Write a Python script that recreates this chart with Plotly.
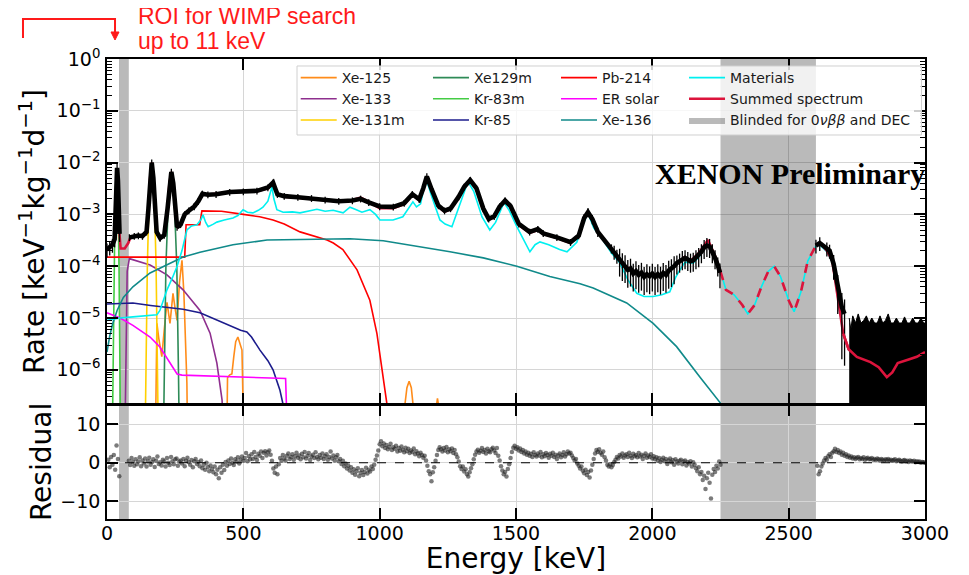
import numpy as np
import plotly.graph_objects as go

FONT = "DejaVu Sans"

# ---------------- values (E in keV, rate in keV^-1 kg^-1 d^-1) ----------------
summed_E = [0, 10, 20, 28, 31, 34, 37, 40, 43, 46, 50, 65, 78, 85, 100, 130, 145, 152, 158, 164,
            170, 176, 182, 195, 210, 222, 229, 236, 243, 250, 257, 270, 285, 300, 320, 335, 350, 370, 400, 450,
            500, 550, 590, 609, 625, 650, 700, 750, 800, 850, 900, 930, 960, 1000, 1050, 1090, 1120, 1145, 1160, 1173,
            1190, 1215, 1238, 1260, 1290, 1310, 1332, 1355, 1380, 1400, 1420, 1440, 1460, 1480, 1510, 1550, 1580, 1600, 1650, 1700,
            1730, 1750, 1764, 1780, 1800, 1850, 1900, 1950, 2000, 2050, 2080, 2100, 2118, 2140, 2170, 2204, 2230, 2250, 2270, 2300,
            2330, 2350, 2375, 2400, 2425, 2447, 2470, 2500, 2520, 2545, 2570, 2600, 2614, 2640, 2660, 2680, 2700, 2720, 2750, 2800,
            2830, 2860, 2880, 2900, 2940, 2970, 3000]
summed_rate = [2.0e-4, 2.2e-4, 2.5e-4, 3.2e-4, 1.3e-3, 4.5e-3, 7.8e-3, 4.5e-3, 1.3e-3, 4.0e-4, 2.2e-4, 2.2e-4, 2.8e-4, 3.5e-4, 3.8e-4, 3.8e-4, 4.5e-4, 1.26e-3, 5.0e-3, 1.0e-2,
               5.0e-3, 1.26e-3, 4.5e-4, 3.5e-4, 4.0e-4, 1.26e-3, 4.0e-3, 6.6e-3, 4.0e-3, 1.26e-3, 5.6e-4, 6.3e-4, 1.0e-3, 1.17e-3, 1.41e-3, 1.78e-3, 2.5e-3, 2.4e-3, 2.5e-3, 2.7e-3,
               2.75e-3, 2.8e-3, 3.2e-3, 4.2e-3, 2.5e-3, 2.2e-3, 2.1e-3, 2.0e-3, 1.86e-3, 1.78e-3, 1.9e-3, 2.1e-3, 1.74e-3, 1.32e-3, 1.32e-3, 1.58e-3, 2.4e-3, 1.9e-3, 3.2e-3, 5.4e-3,
               3.2e-3, 1.41e-3, 1.12e-3, 1.26e-3, 2.2e-3, 3.5e-3, 4.6e-3, 3.2e-3, 1.26e-3, 7.9e-4, 8.9e-4, 1.41e-3, 1.9e-3, 1.41e-3, 6.3e-4, 4.4e-4, 5.0e-4, 4.2e-4, 3.5e-4, 2.8e-4,
               4.0e-4, 8.9e-4, 1.12e-3, 7.9e-4, 4.5e-4, 2.2e-4, 1.0e-4, 7.1e-5, 6.6e-5, 7.1e-5, 1.0e-4, 1.26e-4, 1.5e-4, 1.26e-4, 1.78e-4, 3.2e-4, 1.58e-4, 7.9e-5, 3.5e-5, 2.8e-5,
               1.78e-5, 1.2e-5, 1.78e-5, 4.0e-5, 7.9e-5, 1.0e-4, 6.3e-5, 2.2e-5, 1.32e-5, 3.2e-5, 1.26e-4, 2.5e-4, 2.8e-4, 2.0e-4, 1.26e-4, 2.5e-5, 5.0e-6, 2.5e-6, 1.78e-6, 1.41e-6,
               1.12e-6, 7.2e-7, 8.9e-7, 1.35e-6, 1.58e-6, 1.78e-6, 2.2e-6]

data_E = [0, 10, 20, 28, 31, 34, 37, 40, 43, 46, 60, 82, 100, 115, 130, 145, 152, 158, 164, 170,
          176, 182, 195, 210, 222, 229, 236, 243, 250, 257, 270, 285, 300, 320, 335, 350, 370, 400, 450, 500,
          550, 590, 609, 625, 650, 700, 750, 800, 850, 900, 930, 960, 1000, 1050, 1090, 1120, 1145, 1160, 1173, 1190,
          1215, 1238, 1260, 1290, 1310, 1332, 1355, 1380, 1400, 1420, 1440, 1460, 1480, 1510, 1550, 1580, 1600, 1650, 1700, 1730,
          1750, 1764, 1780, 1800, 1850,
          1860, 1870, 1880, 1890, 1900, 1910, 1920, 1930, 1940, 1950, 1960, 1970, 1980, 1990, 2000, 2010, 2020, 2030, 2040, 2050,
          2060, 2070, 2080, 2090, 2100, 2110, 2120, 2130, 2140, 2150, 2160, 2170, 2180, 2190, 2200, 2210, 2220, 2230, 2240, 2248,
          2400, 2600, 2614, 2640, 2650, 2665, 2680, 2695, 2705]
data_rate = [2.1e-4, 2.3e-4, 2.6e-4, 3.3e-4, 1.35e-3, 4.6e-3, 7.9e-3, 4.6e-3, 1.35e-3, 4.2e-4, None, 3.6e-4, 3.8e-4, 3.9e-4, 3.8e-4, 4.6e-4, 1.3e-3, 5.1e-3, 1.0e-2, 5.1e-3,
             1.3e-3, 4.6e-4, 3.5e-4, 4.0e-4, 1.28e-3, 4.0e-3, 6.6e-3, 4.0e-3, 1.28e-3, 5.7e-4, 6.4e-4, 1.0e-3, 1.18e-3, 1.42e-3, 1.8e-3, 2.5e-3, 2.4e-3, 2.45e-3, 2.7e-3, 2.75e-3,
             2.85e-3, 3.3e-3, 4.1e-3, 2.45e-3, 2.25e-3, 2.15e-3, 2.05e-3, 1.9e-3, 1.8e-3, 1.85e-3, 2.0e-3, 1.7e-3, 1.42e-3, 1.4e-3, 1.65e-3, 2.45e-3, 1.95e-3, 3.2e-3, 5.4e-3, 3.1e-3,
             1.48e-3, 1.18e-3, 1.3e-3, 2.2e-3, 3.4e-3, 4.6e-3, 3.2e-3, 1.3e-3, 8.2e-4, 9.2e-4, 1.42e-3, 1.85e-3, 1.45e-3, 6.6e-4, 4.6e-4, 5.2e-4, 4.3e-4, 3.6e-4, 2.9e-4, 3.9e-4,
             8.5e-4, 1.1e-3, 8.1e-4, 4.6e-4, 2.2e-4,
             1.9e-4, 1.6e-4, 1.4e-4, 1.15e-4, 1.05e-4, 8.5e-5, 9e-5, 7.2e-5, 8e-5, 6.8e-5, 7.5e-5, 6.2e-5, 7e-5, 6.4e-5, 7.2e-5, 6.2e-5, 7e-5, 6.3e-5, 7.4e-5, 6.8e-5,
             8.2e-5, 8.8e-5, 1.0e-4, 1.15e-4, 1.25e-4, 1.4e-4, 1.45e-4, 1.35e-4, 1.25e-4, 1.3e-4, 1.45e-4, 1.6e-4, 1.9e-4, 2.3e-4, 2.5e-4, 2.4e-4, 1.9e-4, 1.45e-4, 1.05e-4, 7.5e-5,
             None, 2.5e-4, 2.8e-4, 2.2e-4, 2.0e-4, 1.1e-4, 4.0e-5, 1.6e-5, 1.2e-5]
data_rel_err = ([0.3] * 10 + [0.0] + [0.15] * 69 + [0.2] * 5 + [0.3] * 2 + [0.55] * 21 + [0.4] * 16 + [0.5]
                + [0.0] + [0.3] * 4 + [0.5, 0.7, 0.9, 0.9])

tail_E = [2722, 2728, 2735, 2745, 2755, 2765, 2775, 2785, 2795, 2805, 2815, 2825, 2835, 2845, 2855,
          2865, 2875, 2885, 2895, 2905, 2915, 2925, 2935, 2945, 2955, 2965, 2975, 2985, 2995, 3000]
tail_rate = [1.0e-5, 6e-6, 1.1e-5, 8e-6, 1.2e-5, 8e-6, 9e-6, 1.1e-5, 8e-6, 1.0e-5, 8e-6, 8e-6, 1.1e-5, 8e-6, 9e-6,
             1.2e-5, 8e-6, 8e-6, 1.0e-5, 8e-6, 8e-6, 1.05e-5, 8e-6, 8e-6, 1.0e-5, 8e-6, 8e-6, 1.0e-5, 8e-6, 8e-6]

materials_E = [0, 48, 95, 150, 183, 194, 210, 220, 240, 257, 275, 293, 310, 330, 345, 352, 362, 371, 390, 403,
               430, 462, 480, 499, 515, 535, 555, 572, 590, 605, 612, 623, 646, 680, 708, 740, 770, 800, 829, 866,
               891, 910, 935, 964, 985, 1001, 1049, 1085, 1110, 1122, 1135, 1150, 1170, 1190, 1221, 1240, 1265, 1290, 1310, 1324,
               1345, 1375, 1404, 1425, 1456, 1475, 1503, 1530, 1551, 1570, 1588, 1620, 1660, 1687, 1710, 1723, 1740, 1764, 1785, 1819,
               1850, 1881, 1910, 1943, 1970, 2003, 2035, 2064, 2085, 2101, 2120, 2150, 2175, 2204, 2230, 2250, 2270, 2300, 2330, 2350,
               2375, 2400, 2425, 2447, 2470, 2500, 2520, 2545, 2570, 2600, 2614, 2640, 2660, 2680, 2700, 2720, 2750, 2800, 2830, 2860,
               2880, 2900, 2940, 2970, 3000]
materials_rate = [9e-6, 1.0e-5, 1.05e-5, 1.1e-5, 1.15e-5, 1.4e-5, 2.5e-5, 3.5e-5, 6e-5, 1.0e-4, 2.0e-4, 5.0e-4, 6e-4, 6.3e-4, 8e-4, 9.8e-4, 7e-4, 5.8e-4, 6.5e-4, 7.1e-4,
                  7.8e-4, 8.5e-4, 9.5e-4, 1.23e-3, 1.1e-3, 1.07e-3, 1.2e-3, 1.38e-3, 1.8e-3, 3.4e-3, 2.0e-3, 1.23e-3, 1.1e-3, 1.12e-3, 1.07e-3, 1.15e-3, 1.26e-3, 1.15e-3, 1.2e-3, 1.07e-3,
                  1.38e-3, 1.26e-3, 1.1e-3, 1.23e-3, 1.0e-3, 7.8e-4, 7.8e-4, 9e-4, 1.4e-3, 1.75e-3, 1.4e-3, 1.6e-3, 5.0e-3, 2.3e-3, 7.8e-4, 6.5e-4, 5.8e-4, 1.4e-3, 2.8e-3, 4.3e-3,
                  2.8e-3, 9e-4, 5e-4, 7e-4, 1.7e-3, 1.2e-3, 5.8e-4, 3.2e-4, 1.9e-4, 2.6e-4, 2.95e-4, 2.6e-4, 2.1e-4, 1.9e-4, 2.5e-4, 2.9e-4, 5.5e-4, 1.07e-3, 5.5e-4, 3.2e-4,
                  1.8e-4, 1.15e-4, 5.5e-5, 3.0e-5, 2.6e-5, 2.6e-5, 2.8e-5, 3.2e-5, 6e-5, 8.5e-5, 1.2e-4, 1.15e-4, 1.6e-4, 3.0e-4, 1.6e-4, 7.9e-5, 3.5e-5, 2.8e-5, 1.78e-5, 1.2e-5,
                  1.78e-5, 4.0e-5, 7.9e-5, 1.0e-4, 6.3e-5, 2.2e-5, 1.32e-5, 3.2e-5, 1.26e-4, 2.45e-4, 2.57e-4, 1.9e-4, 1.2e-4, 2.4e-5, 4.8e-6, 2.4e-6, 1.7e-6, 1.35e-6, 1.07e-6, 6.9e-7,
                  8.5e-7, 1.3e-6, 1.5e-6, 1.7e-6, 2.1e-6]

xe125_E = [176, 180, 183, 190, 201, 210, 220, 231, 242, 250, 257, 266, 275, 282, 286, 293, 297, None,
           438, 442, 450, 458, 465, 472, 480, 488, 495, 498, 501, None,
           1085, 1092, 1100, 1108, 1116, 1123, 1130, None, 1200, 1205, 1212, 1220, 1226]
xe125_rate = [1e-8, 1e-6, 7.9e-6, 4e-6, 1.8e-6, 6e-6, 2e-5, 7.9e-6, 3e-5, 1.5e-5, 9e-6, 5e-5, 1.3e-4, 3e-5, 7.9e-6, 5.5e-7, 1e-8, None,
              1e-8, 7e-7, 8e-7, 8.3e-7, 1.8e-6, 3.5e-6, 4.3e-6, 3.3e-6, 2.4e-6, 4e-7, 1e-8, None,
              1e-8, 2e-7, 4.5e-7, 6e-7, 4.5e-7, 2e-7, 1e-8, None, 1e-8, 1.5e-7, 2.8e-7, 1.5e-7, 1e-8]
xe133_E = [64, 68, 74, 82, 120, 158, 220, 279, 341, 378, 403, 415, 422, 428]
xe133_rate = [1e-8, 1e-6, 8e-5, 1.4e-4, 1.2e-4, 1.05e-4, 6.8e-5, 3.5e-5, 1.4e-5, 5.1e-6, 1.35e-6, 5e-7, 2.6e-7, 5e-8]
xe131m_E = [138, 143, 148, 155, 164, 173, 180, 185, 190]
xe131m_rate = [1e-8, 1e-6, 1e-4, 3e-3, 9.5e-3, 3e-3, 1e-4, 1e-6, 1e-8]
xe129m_E = [205, 210, 216, 226, 236, 246, 256, 262, 267]
xe129m_rate = [1e-8, 1e-6, 1e-4, 2.5e-3, 6.3e-3, 2.5e-3, 1e-4, 1e-6, 1e-8]
kr83m_E = [18, 22, 25, 30, 35, 40, 44, 47, 51]
kr83m_rate = [1e-8, 1e-6, 1e-4, 2.5e-3, 7.5e-3, 2.5e-3, 1e-4, 1e-6, 1e-8]
kr85_E = [0, 95, 160, 220, 279, 341, 403, 462, 490, 513, 530, 561, 590, 609, 634, 650, 662]
kr85_rate = [1.86e-5, 1.95e-5, 1.75e-5, 1.62e-5, 1.48e-5, 1.26e-5, 9.1e-6, 6.8e-6, 5.8e-6, 5.4e-6, 4.3e-6, 2.4e-6, 1.5e-6, 1.0e-6, 4.1e-7, 1.7e-7, 5e-8]
pb214_E = [0, 285, 290, 340, 348, 360, 420, 500, 560, 609, 650, 708, 770, 807, 830, 865, 917, 964, 990, 1010, 1026, 1035]
pb214_rate = [1.5e-4, 1.5e-4, 6.3e-4, 6.3e-4, 1.17e-3, 1.17e-3, 1.15e-3, 1.0e-3, 9.0e-4, 7.8e-4, 6.5e-4, 4.6e-4, 3.7e-4, 3.2e-4, 2.8e-4, 2.1e-4, 8.5e-5, 2.2e-5, 5e-6, 1e-6, 2.3e-7, 5e-8]
er_E = [0, 48, 95, 158, 194, 231, 257, 275, 400, 634, 655, 660, 665]
er_rate = [1.26e-5, 1.0e-5, 7.2e-6, 4.3e-6, 2.75e-6, 1.35e-6, 8.3e-7, 7.9e-7, 7.6e-7, 6.9e-7, 6.8e-7, 1e-7, 5e-8]
xe136_E = [0, 10, 20, 37, 60, 95, 158, 220, 279, 341, 462, 587, 646, 891, 1013, 1136, 1258, 1380, 1503, 1624,
           1735, 1783, 1906, 2003, 2089, 2175, 2249, 2270]
xe136_rate = [2.2e-6, 4.5e-6, 7.5e-6, 1.4e-5, 2.5e-5, 4.0e-5, 7.4e-5, 1.05e-4, 1.5e-4, 1.86e-4, 2.6e-4, 3.2e-4, 3.25e-4, 3.4e-4, 3.1e-4, 2.45e-4, 1.9e-4, 1.45e-4, 1.0e-4, 6.3e-5,
              4.6e-5, 3.8e-5, 1.95e-5, 7.9e-6, 2.8e-6, 7.2e-7, 2.3e-7, 1e-7]

# residuals, 5 keV bins
res_low_E = list(range(5, 2251, 5))
res_low = [0.8, -1.2, 1.5, -0.5, 2.0, -1.8, 4.5, 1.0, -3.5, None, None, None, None, None, None, 0.5, -0.6, 1.2, 0.2, -0.8,
           0.9, -0.4, 0.3, 1.4, -0.9, 0.6, -0.2, 1.1, -1.0, 0.4, 1.3, -0.5, 0.2, 0.9, -1.1, 0.5, 1.6, -0.3, 0.1, -0.7,
           0.8, 0.3, -1.0, 1.2, 0.0, -0.6, 1.5, 0.4, -0.4, 0.9, 1.1, -0.8, 0.3, 0.6, -0.2, 1.0, -0.9, 0.5, 1.3, 0.2,
           -0.5, 0.7, -1.2, 0.4, 1.0, -0.3, 0.2, -0.9, 0.6, -1.4, -0.5, -1.8, 0.0, -1.1, -2.2, -0.7, -1.6, -2.5, -1.0, -3.0,
           -1.8, -4.0, -1.2, -2.6, -0.5, -1.9, 0.2, -0.8, 0.6, -0.3, 1.1, 0.0, -0.6, 0.9, 0.3, 1.4, -0.2, 0.8, 1.6, 0.5,
           1.2, 2.5, 0.4, 1.7, 0.9, 2.2, 1.0, 2.8, 1.5, 0.7, 2.3, 1.8, 2.9, 1.2, 2.6, 3.0, 1.9, 2.7, 3.2, 2.1,
           0.5, -1.5, -2.6, -1.0, -3.0, -0.4, 1.2, 0.5, 2.0, 1.1, 0.6, 1.8, 2.4, 1.0, 1.5, 2.2, 0.8, 1.7, 2.6, 1.3,
           1.9, 0.9, 2.3, 1.4, 2.8, 1.1, 1.8, 2.5, 0.7, 1.6, 2.1, 1.2, 2.7, 1.5, 0.9, 2.0, 1.3, 2.4, 1.0, 1.7,
           2.2, 0.8, 1.5, 2.9, 1.1, 1.9, 0.6, 1.4, 2.0, 0.4, 1.0, -0.3, 0.5, -0.9, -0.2, -1.5, -0.8, -2.0, -1.2, -2.6,
           -1.7, -3.1, -2.2, -1.4, -3.5, -2.6, -1.9, -3.2, -2.4, -1.3, -2.8, -1.8, -2.3, -1.0, -1.6, -0.5, 0.8, 1.9, 3.2, 4.8,
           5.6, 4.3, 5.0, 3.8, 4.6, 3.5, 4.1, 4.9, 3.3, 4.0, 3.6, 4.4, 2.9, 3.8, 3.1, 4.2, 3.4, 2.7, 3.9, 3.0,
           3.6, 2.5, 3.2, 2.8, 3.7, 2.2, 3.0, 2.4, 1.7, 2.6, 2.0, 1.3, 1.8, 0.6, -0.8, -2.2, -3.0, -4.8, -2.5, -1.2,
           0.5, 2.0, 3.3, 4.0, 3.5, 2.9, 3.8, 3.2, 4.1, 2.7, 3.5, 3.0, 3.7, 2.5, 3.3, 2.2, 1.4, 0.3, -0.9, -1.6,
           -1.0, -2.3, -1.7, -3.0, -3.6, -2.5, -1.4, -0.4, 0.9, 2.1, 2.9, 3.4, 2.6, 3.1, 3.8, 2.8, 3.3, 2.4, 3.6, 3.0,
           2.7, 3.5, 3.9, 3.2, 2.5, 3.8, 1.8, 0.6, -0.9, -2.0, -3.0, -2.4, -3.6, -1.6, -0.4, 1.2, 2.8, 3.9, 4.4, 3.6,
           4.0, 3.2, 3.7, 2.8, 3.3, 2.4, 2.9, 2.1, 2.6, 1.8, 2.3, 1.5, 2.7, 2.0, 1.6, 2.4, 1.9, 2.8, 1.4, 2.2,
           1.7, 2.5, 2.0, 1.3, 2.3, 1.8, 2.6, 1.5, 2.1, 1.0, 1.9, 2.4, 1.4, 2.0, 2.7, 1.6, 2.2, 2.9, 2.4, 2.6,
           1.9, 1.2, 0.6, 1.0, -0.2, -0.8, -1.5, -1.0, -2.1, -2.7, -1.8, -3.2, -2.4, -3.8, -2.0, -0.5, 1.0, 2.4, 3.3, 2.8,
           3.5, 2.6, 2.1, 2.9, 1.4, 0.6, -0.5, -1.0, -0.4, -1.2, -0.6, 0.2, 0.8, 1.5, 1.1, 2.0, 1.6, 2.4, 1.3, 1.9,
           2.2, 1.5, 2.6, 1.8, 1.2, 2.3, 1.7, 2.0, 1.4, 2.5, 1.6, 2.1, 1.0, 1.8, 2.4, 1.3, 1.9, 1.5, 2.2, 1.1,
           1.7, 0.9, 1.4, 0.5, 1.2, 0.2, 0.8, 1.3, 0.4, 1.0, -0.3, 0.6, 1.1, 0.1, 0.7, -0.5, 0.9, 0.3, -0.2, 0.5,
           0.8, -0.4, 0.3, 0.6, -0.7, 0.2, -0.2, 0.4, -1.0, 0.1, -0.5, -1.4, -2.2, -1.2, -3.0, -2.4, -4.5, -3.4, -6.8, -4.0,
           -2.6, -5.2, -9.3, -3.1, -1.6, -2.4, -0.8, -1.5, 0.3, -0.5]
res_high_E = list(range(2605, 3001, 5))
res_high = [-0.8, -3.0, -2.2, -1.0, -0.2, 0.6, 1.2, 0.8, 1.7, 2.2, 1.5, 2.6, 3.0, 3.6, 2.8, 3.3, 2.5, 2.9, 2.1, 2.6,
            1.8, 2.2, 1.5, 1.9, 1.3, 1.6, 1.1, 1.4, 1.0, 1.3, 1.5, 0.9, 1.2, 1.0, 1.4, 0.8, 1.1, 1.3, 0.9, 1.0,
            1.2, 0.8, 1.0, 0.7, 1.1, 0.9, 0.6, 1.0, 0.8, 0.5, 0.9, 0.7, 1.0, 0.6, 0.8, 0.5, 0.7, 0.9, 0.4, 0.6,
            0.8, 0.5, 0.3, 0.6, 0.7, 0.4, 0.5, 0.2, 0.6, 0.4, 0.3, 0.5, 0.1, 0.4, 0.2, 0.3, 0.0, 0.2, 0.1, 0.0]

x_ticks = [0, 500, 1000, 1500, 2000, 2500, 3000]
y_ticks = [1e-6, 1e-5, 1e-4, 1e-3, 1e-2, 1e-1, 1]
y_ticktext = ["10<sup>−6</sup>", "10<sup>−5</sup>", "10<sup>−4</sup>", "10<sup>−3</sup>",
              "10<sup>−2</sup>", "10<sup>−1</sup>", "10<sup>0</sup>"]
res_ticks = [-10, 0, 10]
res_ticktext = ["−10", "0", "10"]
roi_band = [44, 80]
blind_band = [2250, 2600]
rate_span = [1e-9, 10]   # vertical extent used to paint the blinded band (beyond the axis range)

# ---------------- figure ----------------
fig = go.Figure()
BAND = "rgba(0,0,0,0.27)"

# blinded band in the spectrum panel, drawn as a filled trace so that it appears in the legend
fig.add_trace(go.Scatter(x=[blind_band[0], blind_band[1], blind_band[1], blind_band[0], blind_band[0]],
                         y=[rate_span[0], rate_span[0], rate_span[1], rate_span[1], rate_span[0]],
                         mode="lines", fill="toself", fillcolor=BAND, line=dict(width=0, color=BAND),
                         name="Blinded for 0<i>νββ</i> and DEC", legend="legend4", legendrank=3,
                         xaxis="x", yaxis="y", hoverinfo="skip"))

components = [
    ("Xe-125", xe125_E, xe125_rate, "#ff8c1a", "legend", 1),
    ("Xe-133", xe133_E, xe133_rate, "#8e2f8e", "legend", 2),
    ("Xe-131m", xe131m_E, xe131m_rate, "#ffd000", "legend", 3),
    ("Xe129m", xe129m_E, xe129m_rate, "#2e8b57", "legend2", 1),
    ("Kr-83m", kr83m_E, kr83m_rate, "#44cc44", "legend2", 2),
    ("Kr-85", kr85_E, kr85_rate, "#1c1c8c", "legend2", 3),
    ("Pb-214", pb214_E, pb214_rate, "#ff0000", "legend3", 1),
    ("ER solar", er_E, er_rate, "#ff00ff", "legend3", 2),
    ("Xe-136", xe136_E, xe136_rate, "#108a8a", "legend3", 3),
    ("Materials", materials_E, materials_rate, "#00f0f0", "legend4", 1),
]
for name, E, R, color, leg, rank in components:
    fig.add_trace(go.Scatter(x=E, y=R, mode="lines", name=name, line=dict(color=color, width=1.6),
                             legend=leg, legendrank=rank, connectgaps=False, xaxis="x", yaxis="y",
                             hoverinfo="skip"))

sE = np.array(summed_E, dtype=float)
sR = np.array(summed_rate, dtype=float)
solid_y = np.where((sE <= blind_band[0]) | (sE >= blind_band[1]), sR, np.nan)
dash_y = np.where((sE >= blind_band[0]) & (sE <= blind_band[1]), sR, np.nan)
top_y = np.where(sE >= 2700, sR, np.nan)

CRIMSON = "#dc143c"
fig.add_trace(go.Scatter(x=summed_E, y=solid_y, mode="lines", name="Summed spectrum",
                         line=dict(color=CRIMSON, width=2.6), legend="legend4", legendrank=2,
                         xaxis="x", yaxis="y", hoverinfo="skip"))
fig.add_trace(go.Scatter(x=summed_E, y=dash_y, mode="lines", showlegend=False,
                         line=dict(color=CRIMSON, width=2.6, dash="dash"), xaxis="x", yaxis="y", hoverinfo="skip"))

err = [None if r is None else r * e for r, e in zip(data_rate, data_rel_err)]
fig.add_trace(go.Scatter(x=data_E, y=data_rate, mode="lines", showlegend=False,
                         line=dict(color="black", width=4.6),
                         error_y=dict(type="data", array=err, visible=True, thickness=1.3, width=0, color="black"),
                         xaxis="x", yaxis="y", hoverinfo="skip"))
fig.add_trace(go.Scatter(x=tail_E, y=tail_rate, mode="lines", fill="tozeroy", fillcolor="black",
                         line=dict(color="black", width=1), showlegend=False, xaxis="x", yaxis="y",
                         hoverinfo="skip"))
fig.add_trace(go.Scatter(x=summed_E, y=top_y, mode="lines", showlegend=False,
                         line=dict(color=CRIMSON, width=2.6), xaxis="x", yaxis="y", hoverinfo="skip"))

for E, R in [(res_low_E, res_low), (res_high_E, res_high)]:
    fig.add_trace(go.Scatter(x=E, y=R, mode="markers", showlegend=False,
                             marker=dict(size=4.5, color="rgba(35,35,35,0.6)", line=dict(width=0)),
                             xaxis="x2", yaxis="y2", hoverinfo="skip"))

# ---------------- shapes ----------------
shapes = []
for band, refs in [(roi_band, [("x", "y domain"), ("x2", "y2 domain")]), (blind_band, [("x2", "y2 domain")])]:
    for xr, yr in refs:
        shapes.append(dict(type="rect", xref=xr, yref=yr, x0=band[0], x1=band[1], y0=0, y1=1,
                           fillcolor=BAND, line=dict(width=0), layer="below"))
# legend frame
shapes.append(dict(type="rect", xref="paper", yref="paper", x0=0.2323, x1=0.9957, y0=0.8348, y1=0.9848,
                   fillcolor="rgba(255,255,255,0.8)", line=dict(color="#d0d0d0", width=1), layer="above"))
# zero line in residual panel
shapes.append(dict(type="line", xref="x2", yref="y2", x0=0, x1=3000, y0=0, y1=0,
                   line=dict(color="black", width=1.2, dash="dash"), layer="above"))
# ROI bracket with arrow head
RED = "#ff1a1a"
shapes.append(dict(type="path", xref="paper", yref="paper",
                   path="M -0.1027,1.0457 L -0.1027,1.087 L 0.0098,1.087 L 0.0098,1.058",
                   line=dict(color=RED, width=2)))
shapes.append(dict(type="path", xref="paper", yref="paper",
                   path="M 0.0049,1.0587 L 0.0147,1.0587 L 0.0098,1.0413 Z",
                   fillcolor=RED, line=dict(color=RED, width=1)))

annotations = [
    dict(x=0.0355, y=1.0941, xref="paper", yref="paper", xanchor="left", yanchor="middle", showarrow=False,
         text="ROI for WIMP search", font=dict(family="Liberation Sans", size=23, color=RED)),
    dict(x=0.0355, y=1.0385, xref="paper", yref="paper", xanchor="left", yanchor="middle", showarrow=False,
         text="up to 11 keV", font=dict(family="Liberation Sans", size=23, color=RED)),
    dict(x=1.002, y=0.752, xref="paper", yref="paper", xanchor="right", yanchor="middle", showarrow=False,
         text="<b>XENON Preliminary</b>", font=dict(family="Liberation Serif", size=30, color="black")),
]

axis_common = dict(showline=True, linecolor="black", linewidth=1.6, mirror="allticks", ticks="inside",
                   tickcolor="black", tickwidth=1.6, ticklen=11, showgrid=True, gridcolor="#d6d6d6", gridwidth=1,
                   zeroline=False, automargin=False, tickfont=dict(family=FONT, size=19, color="black"))

leg_common = dict(bgcolor="rgba(0,0,0,0)", borderwidth=0, font=dict(family=FONT, size=14, color="#1a1a1a"),
                  itemwidth=36, xanchor="left", yanchor="top", orientation="v", traceorder="normal")

LEG_Y = 0.9935
# the page adds an 8 px body margin, so the figure is 8 px smaller and margins are shifted accordingly
fig.update_layout(
    width=961, height=567, margin=dict(l=99, r=44, t=51, b=56, autoexpand=False),
    paper_bgcolor="white", plot_bgcolor="white",
    font=dict(family=FONT, color="black"),
    xaxis=dict(domain=[0, 1], anchor="y", range=[0, 3000], tickmode="array", tickvals=x_ticks,
               showticklabels=False, **axis_common),
    xaxis2=dict(domain=[0, 1], anchor="y2", matches="x", range=[0, 3000], tickmode="array", tickvals=x_ticks,
                ticklabelstandoff=-4,
                title=dict(text="Energy [keV]", font=dict(family=FONT, size=28), standoff=6), **axis_common),
    yaxis=dict(domain=[0.25, 1], anchor="x", type="log", range=[-6.66, 0], tickmode="array",
               tickvals=y_ticks, ticktext=y_ticktext, ticklabelstandoff=1,
               minor=dict(dtick="D1", ticks="inside", ticklen=5, tickwidth=1, tickcolor="black", showgrid=False),
               title=dict(text="Rate [keV<sup>−1</sup>kg<sup>−1</sup>d<sup>−1</sup>]",
                          font=dict(family=FONT, size=28), standoff=4), **axis_common),
    yaxis2=dict(domain=[0, 0.248], anchor="x2", range=[-14.6, 15], tickmode="array",
                tickvals=res_ticks, ticktext=res_ticktext, ticklabelstandoff=1,
                title=dict(text="Residual", font=dict(family=FONT, size=28), standoff=0), **axis_common),
    legend=dict(x=0.2307, y=LEG_Y, **leg_common),
    legend2=dict(x=0.3924, y=LEG_Y, **leg_common),
    legend3=dict(x=0.5489, y=LEG_Y, **leg_common),
    legend4=dict(x=0.7054, y=LEG_Y, **leg_common),
    shapes=shapes,
    annotations=annotations,
)

fig.write_html("out.html")
